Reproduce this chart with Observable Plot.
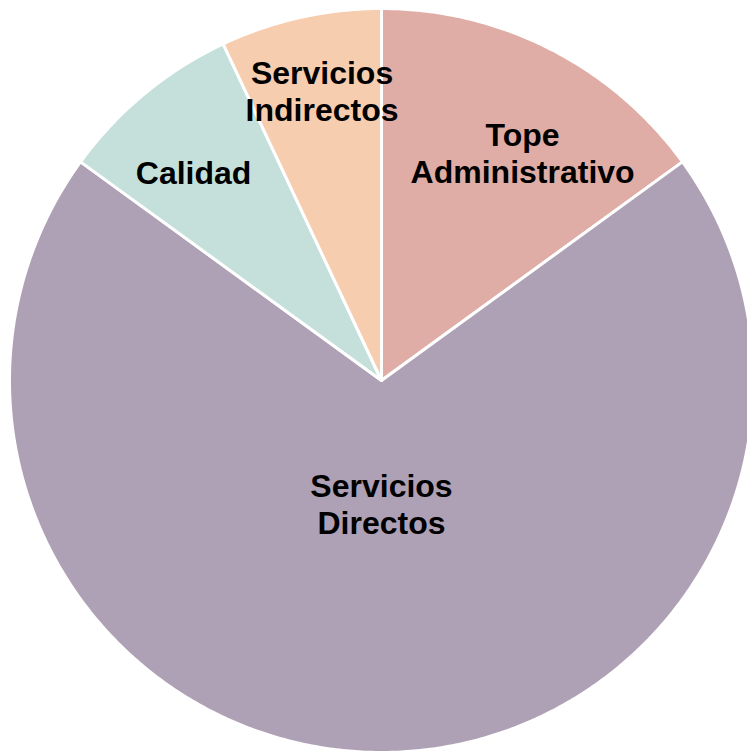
<!DOCTYPE html>
<html><head><meta charset="utf-8">
<script src="https://cdn.jsdelivr.net/npm/d3@7"></script>
<script src="https://cdn.jsdelivr.net/npm/@observablehq/plot@0.6"></script>
<style>body{margin:0;background:#fff;overflow:hidden}</style>
</head><body><div id="chart"></div>
<script>
// Data
const categories = ["Tope Administrativo", "Servicios Directos", "Calidad", "Servicios Indirectos"];
const shares = [15, 70, 8, 7];
const labels = ["Tope\nAdministrativo", "Servicios\nDirectos", "Calidad", "Servicios\nIndirectos"];
const colors = ["#DFADA5", "#AFA1B5", "#C5E0DA", "#F7CDB0"];

// Layout (label placement in polar terms: angle in degrees clockwise from top, radius fraction)
const labelLayout = {
  "Tope Administrativo": [31.8, 0.72],
  "Servicios Directos": [180, 0.33],
  "Calidad": [318, 0.755],
  "Servicios Indirectos": [348.4, 0.795]
};
const W = 747, H = 751, CX = 381, CY = 380, R = 372;

const total = d3.sum(shares);
const slices = [];
let cum = 0;
categories.forEach((c, i) => {
  const a0 = cum / total * 2 * Math.PI;
  cum += shares[i];
  const a1 = cum / total * 2 * Math.PI;
  slices.push({category: c, a0, a1});
});

// Polygon outline for each slice (geometry of the arc)
const pts = [];
for (const s of slices) {
  pts.push({category: s.category, x: 0, y: 0});
  const n = Math.max(2, Math.ceil((s.a1 - s.a0) / (Math.PI / 360)));
  for (let k = 0; k <= n; k++) {
    const a = s.a0 + (s.a1 - s.a0) * k / n;
    pts.push({category: s.category, x: Math.sin(a), y: Math.cos(a)});
  }
  pts.push({category: s.category, x: 0, y: 0});
}

const labelData = categories.map((c, i) => {
  const [deg, r] = labelLayout[c];
  const a = deg * Math.PI / 180;
  return {category: c, label: labels[i], x: r * Math.sin(a), y: r * Math.cos(a)};
});

const chart = Plot.plot({
  width: W,
  height: H,
  margin: 0,
  style: {background: "#fff", overflow: "visible"},
  x: {domain: [-1, 1], range: [CX - R, CX + R], axis: null},
  y: {domain: [-1, 1], range: [CY + R, CY - R], axis: null},
  color: {domain: categories, range: colors},
  marks: [
    Plot.line(pts, {x: "x", y: "y", z: "category", fill: "category", stroke: "white", strokeWidth: 3, strokeLinejoin: "round"}),
    Plot.text(labelData, {
      x: "x", y: "y", text: "label",
      fontSize: 32, fontWeight: "bold", fontFamily: "'Liberation Sans', Arial, sans-serif",
      fill: "black", lineHeight: 1.16, textAnchor: "middle", lineAnchor: "middle"
    })
  ]
});
document.getElementById("chart").append(chart);
</script>
</body></html>
